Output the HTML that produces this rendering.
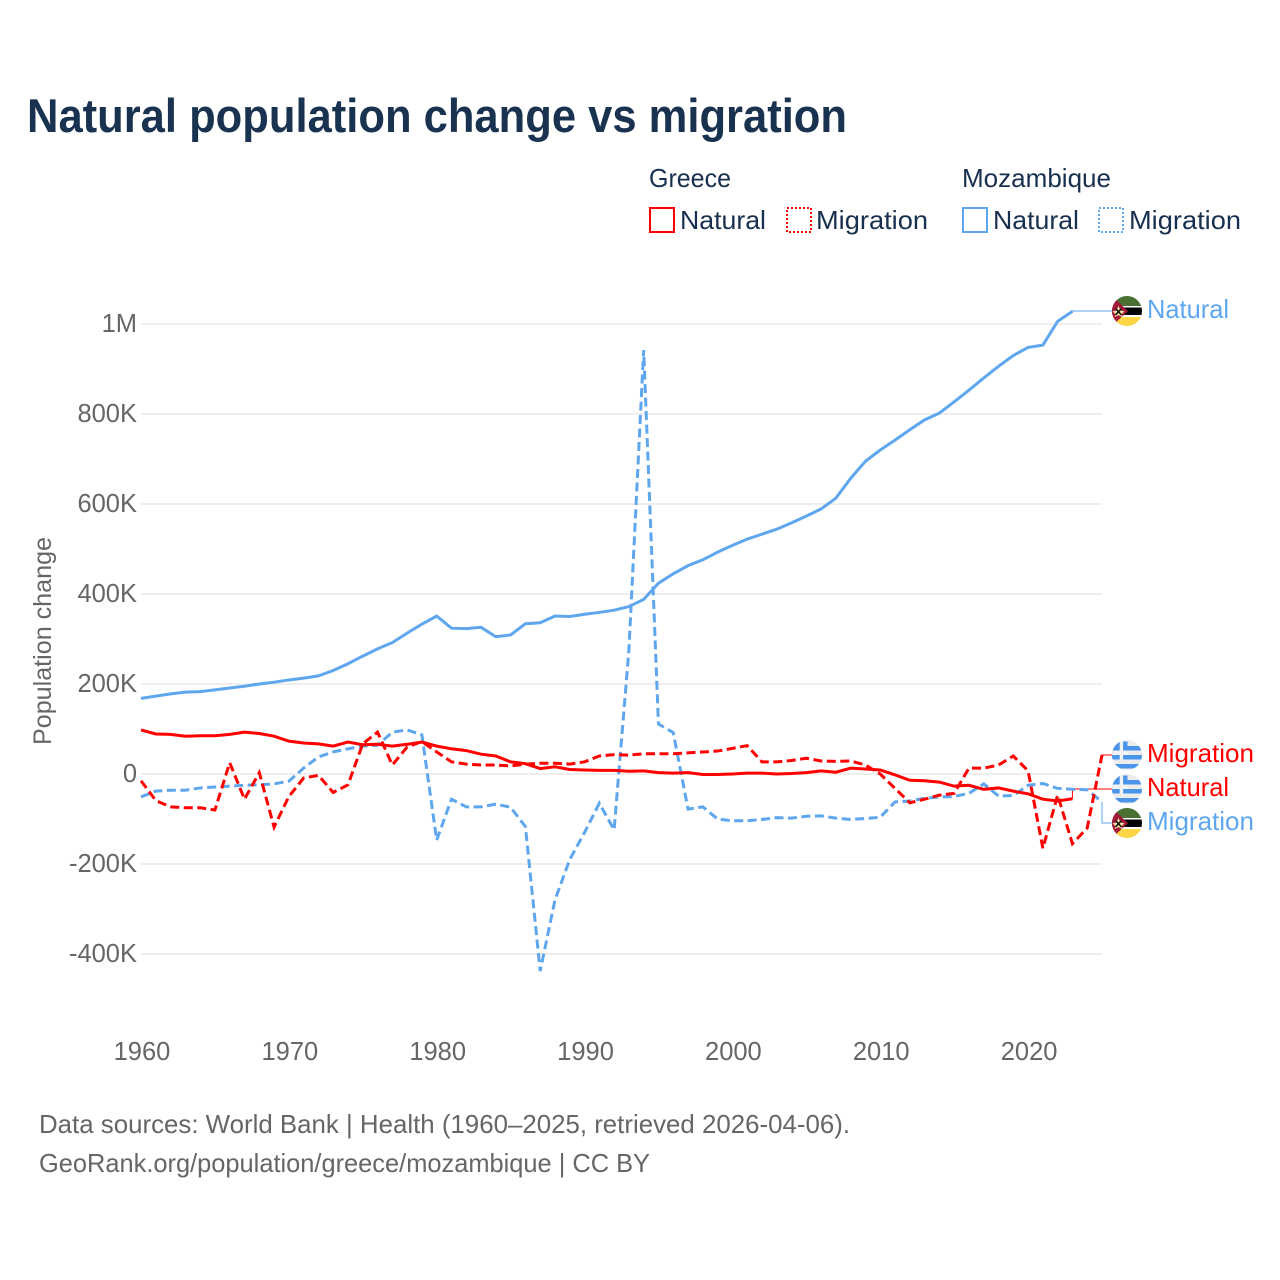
<!DOCTYPE html>
<html lang="en">
<head>
<meta charset="utf-8">
<title>Natural population change vs migration</title>
<style>
html,body{margin:0;padding:0;background:#fff}
svg{display:block}
text{font-family:"Liberation Sans",sans-serif}
</style>
</head>
<body>
<svg id="chart" xmlns="http://www.w3.org/2000/svg" width="1280" height="1280" viewBox="0 0 1280 1280">
  <defs>
    <clipPath id="flag-clip"><circle cx="0" cy="0" r="15"></circle></clipPath>
    <symbol id="flag-greece" overflow="visible" viewBox="-15 -15 30 30">
      <g clip-path="url(#flag-clip)">
        <rect x="-15" y="-15" width="30" height="30" fill="#ececec"></rect>
        <rect x="-15" y="-9" width="30" height="4.5" fill="#4a94ea"></rect>
        <rect x="-15" y="0" width="30" height="4.5" fill="#4a94ea"></rect>
        <rect x="-15" y="9" width="30" height="4.5" fill="#4a94ea"></rect>
        <rect x="-15" y="-13.5" width="15.5" height="18" fill="#4a94ea"></rect>
        <rect x="-7.3" y="-13.5" width="3.4" height="18" fill="#f2f2f2"></rect>
        <rect x="-15" y="-4.5" width="15.5" height="4.5" fill="#f2f2f2"></rect>
      </g>
    </symbol>
    <symbol id="flag-mozambique" overflow="visible" viewBox="-15 -15 30 30">
      <g clip-path="url(#flag-clip)">
        <rect x="-15" y="-15" width="30" height="30" fill="#fff"></rect>
        <rect x="-15" y="-15" width="30" height="10" fill="#4b7033"></rect>
        <rect x="-15" y="-3.5" width="30" height="7.5" fill="#050505"></rect>
        <rect x="-15" y="6" width="30" height="9" fill="#fdd545"></rect>
        <path d="M-15,-15 L1,0 L-15,15 Z" fill="#a31a3c"></path>
        <path d="M-8.5,-5 L-6.4,-0.6 L-2.5,0.4 L-5.4,3.2 L-4.8,6 L-8.5,4.2 L-12.2,6 L-11.6,3.2 L-14.5,0.4 L-10.6,-0.6 Z" fill="#efdca0"></path>
        <path d="M-11.5,-2.5 L-5.5,4 M-5.5,-2.5 L-11.5,4" stroke="#111" stroke-width="1.5"></path>
      </g>
    </symbol>
  </defs>

  <rect x="0" y="0" width="1280" height="1280" fill="#fff"></rect>

  <text x="27" y="132" font-size="47" font-weight="700" fill="#183250" textLength="820" lengthAdjust="spacingAndGlyphs">Natural population change vs migration</text>

  <g font-size="26" fill="#18304f">
    <text x="649" y="187" textLength="82" lengthAdjust="spacingAndGlyphs">Greece</text>
    <text x="962" y="187" textLength="149" lengthAdjust="spacingAndGlyphs">Mozambique</text>
    <rect x="650" y="208" width="24" height="24" fill="none" stroke="#ff0000" stroke-width="2"></rect>
    <text x="680" y="229" textLength="86" lengthAdjust="spacingAndGlyphs">Natural</text>
    <rect x="787" y="208" width="24" height="24" fill="none" stroke="#ff0000" stroke-width="2" stroke-dasharray="2,2"></rect>
    <text x="816" y="229" textLength="112" lengthAdjust="spacingAndGlyphs">Migration</text>
    <rect x="963" y="208" width="24" height="24" fill="none" stroke="#5ea6ee" stroke-width="2"></rect>
    <text x="993" y="229" textLength="86" lengthAdjust="spacingAndGlyphs">Natural</text>
    <rect x="1099" y="208" width="24" height="24" fill="none" stroke="#5ea6ee" stroke-width="2" stroke-dasharray="2,2"></rect>
    <text x="1129" y="229" textLength="112" lengthAdjust="spacingAndGlyphs">Migration</text>
  </g>

  <text transform="translate(51,745) rotate(-90)" font-size="25" fill="#666" textLength="208" lengthAdjust="spacingAndGlyphs">Population change</text>

  <g id="grid"></g>
  <g id="y-ticks"></g>
  <g id="x-ticks"></g>
  <g id="series"></g>

  <g font-size="26">
    <use href="#flag-mozambique" x="1112" y="296" width="30" height="30"></use>
    <text x="1147" y="318" fill="#5ea6ee" textLength="82" lengthAdjust="spacingAndGlyphs">Natural</text>
    <use href="#flag-greece" x="1112" y="740" width="30" height="30"></use>
    <text x="1147" y="762" fill="#ff0000" textLength="107" lengthAdjust="spacingAndGlyphs">Migration</text>
    <use href="#flag-greece" x="1112" y="774" width="30" height="30"></use>
    <text x="1147" y="796" fill="#ff0000" textLength="82" lengthAdjust="spacingAndGlyphs">Natural</text>
    <use href="#flag-mozambique" x="1112" y="808" width="30" height="30"></use>
    <text x="1147" y="830" fill="#5ea6ee" textLength="107" lengthAdjust="spacingAndGlyphs">Migration</text>
  </g>

  <g font-size="26" fill="#666">
    <text x="39" y="1133" textLength="811" lengthAdjust="spacingAndGlyphs">Data sources: World Bank | Health (1960–2025, retrieved 2026-04-06).</text>
    <text x="39" y="1172" textLength="611" lengthAdjust="spacingAndGlyphs">GeoRank.org/population/greece/mozambique | CC BY</text>
  </g>
</svg>

<script>
// Values are in thousands of people.
const years = [1960,1961,1962,1963,1964,1965,1966,1967,1968,1969,1970,1971,1972,1973,1974,1975,1976,1977,1978,1979,1980,1981,1982,1983,1984,1985,1986,1987,1988,1989,1990,1991,1992,1993,1994,1995,1996,1997,1998,1999,2000,2001,2002,2003,2004,2005,2006,2007,2008,2009,2010,2011,2012,2013,2014,2015,2016,2017,2018,2019,2020,2021,2022,2023,2024,2025];

const mozambiqueNatural = [168,173,178,182,183,187,191,195,200,204,209,213,218,230,245,262,278,292,313,333,351,324,323,326,305,309,334,336,351,350,355,359,364,372,388,424,445,463,476,493,508,522,533,544,558,573,589,613,657,695,720,742,765,787,802,827,853,880,906,930,948,953,1006,1028];

const mozambiqueMigration = [-51,-38,-36,-36,-31,-29,-27,-25,-24,-22,-16,13,38,49,56,62,64,93,98,87,-147,-56,-73,-73,-67,-74,-117,-438,-280,-190,-130,-65,-124,275,942,111,92,-78,-73,-100,-104,-104,-101,-97,-98,-94,-93,-98,-101,-99,-96,-62,-60,-54,-51,-50,-43,-22,-49,-48,-25,-21,-32,-34,-35,-62];

const greeceNatural = [98,89,88,84,85,85,88,93,90,84,73,69,67,62,71,65,66,62,66,71,62,56,52,44,40,27,23,12,16,10,9,8,8,6,7,3,2,3,-1,-1,0,2,2,0,1,3,7,4,13,11,9,-2,-14,-15,-18,-27,-25,-34,-31,-38,-44,-56,-60,-55];

const greeceMigration = [-15,-59,-73,-75,-75,-80,25,-56,3,-118,-50,-9,-3,-41,-24,67,93,20,60,72,49,27,22,20,20,18,22,24,24,22,27,40,43,42,45,45,45,47,49,51,57,63,27,27,30,35,29,28,29,20,0,-32,-64,-56,-47,-43,13,13,20,40,7,-165,-47,-155,-120,42];

const yTickValues = [-400,-200,0,200,400,600,800,1000];
const yTickLabels = ["-400K","-200K","0","200K","400K","600K","800K","1M"];
const xTickValues = [1960,1970,1980,1990,2000,2010,2020];
const xTickLabels = ["1960","1970","1980","1990","2000","2010","2020"];

const SVG_NS = "http://www.w3.org/2000/svg";
const plot = { left: 141, right: 1102, zeroY: 774, pxPerThousand: 0.45 };

function xScale(year) {
  return plot.left + (year - years[0]) * (plot.right - plot.left) / (years[years.length - 1] - years[0]);
}
function yScale(value) {
  return plot.zeroY - value * plot.pxPerThousand;
}
function linePath(values) {
  return values.map(function (v, i) {
    return (i === 0 ? "M" : "L") + xScale(years[i]).toFixed(2) + "," + yScale(v).toFixed(2);
  }).join(" ");
}

const gridGroup = document.getElementById("grid");
const yTickGroup = document.getElementById("y-ticks");
const xTickGroup = document.getElementById("x-ticks");
const seriesGroup = document.getElementById("series");

yTickValues.forEach(function (v, i) {
  const gridline = document.createElementNS(SVG_NS, "line");
  
  
  gridline.setAttribute("x1", plot.left);
  gridline.setAttribute("x2", plot.right);
  gridline.setAttribute("y1", yScale(v));
  gridline.setAttribute("y2", yScale(v));
  gridline.setAttribute("stroke", "#eeeeee");
  gridline.setAttribute("stroke-width", "2");
  gridGroup.appendChild(gridline);

  const label = document.createElementNS(SVG_NS, "text");
  
  
  label.setAttribute("x", 137);
  label.setAttribute("y", yScale(v) + 8);
  label.setAttribute("text-anchor", "end");
  label.setAttribute("font-size", "25.5");
  label.setAttribute("fill", "#666");
  label.textContent = yTickLabels[i];
  yTickGroup.appendChild(label);
});

xTickValues.forEach(function (year, i) {
  const label = document.createElementNS(SVG_NS, "text");
  
  
  label.setAttribute("x", xScale(year) + 1);
  label.setAttribute("y", 1060);
  label.setAttribute("text-anchor", "middle");
  label.setAttribute("font-size", "25.5");
  label.setAttribute("fill", "#666");
  label.textContent = xTickLabels[i];
  xTickGroup.appendChild(label);
});

function drawConnector(values, color, labelY) {
  const lastX = xScale(years[values.length - 1]);
  const lastY = yScale(values[values.length - 1]);
  const connector = document.createElementNS(SVG_NS, "path");
  
  
  connector.setAttribute("d", "M" + lastX + "," + lastY + " V" + labelY + " H1113");
  connector.setAttribute("fill", "none");
  connector.setAttribute("stroke", color);
  connector.setAttribute("stroke-width", "1");
  seriesGroup.appendChild(connector);
}

drawConnector(mozambiqueNatural, "#5ea6ee", 311);
drawConnector(mozambiqueMigration, "#5ea6ee", 823);
drawConnector(greeceNatural, "#ff0000", 789);
drawConnector(greeceMigration, "#ff0000", 755);

const mozambiqueMigrationLine = document.createElementNS(SVG_NS, "path");


mozambiqueMigrationLine.setAttribute("d", linePath(mozambiqueMigration));
mozambiqueMigrationLine.setAttribute("fill", "none");
mozambiqueMigrationLine.setAttribute("stroke", "#5ea6ee");
mozambiqueMigrationLine.setAttribute("stroke-width", "3");
mozambiqueMigrationLine.setAttribute("stroke-dasharray", "9,4.5");
seriesGroup.appendChild(mozambiqueMigrationLine);

const mozambiqueNaturalLine = document.createElementNS(SVG_NS, "path");


mozambiqueNaturalLine.setAttribute("d", linePath(mozambiqueNatural));
mozambiqueNaturalLine.setAttribute("fill", "none");
mozambiqueNaturalLine.setAttribute("stroke", "#5ea6ee");
mozambiqueNaturalLine.setAttribute("stroke-width", "3");
seriesGroup.appendChild(mozambiqueNaturalLine);

const greeceMigrationLine = document.createElementNS(SVG_NS, "path");


greeceMigrationLine.setAttribute("d", linePath(greeceMigration));
greeceMigrationLine.setAttribute("fill", "none");
greeceMigrationLine.setAttribute("stroke", "#ff0000");
greeceMigrationLine.setAttribute("stroke-width", "3");
greeceMigrationLine.setAttribute("stroke-dasharray", "9,4.5");
seriesGroup.appendChild(greeceMigrationLine);

const greeceNaturalLine = document.createElementNS(SVG_NS, "path");


greeceNaturalLine.setAttribute("d", linePath(greeceNatural));
greeceNaturalLine.setAttribute("fill", "none");
greeceNaturalLine.setAttribute("stroke", "#ff0000");
greeceNaturalLine.setAttribute("stroke-width", "3");
seriesGroup.appendChild(greeceNaturalLine);
</script>
</body>
</html>
